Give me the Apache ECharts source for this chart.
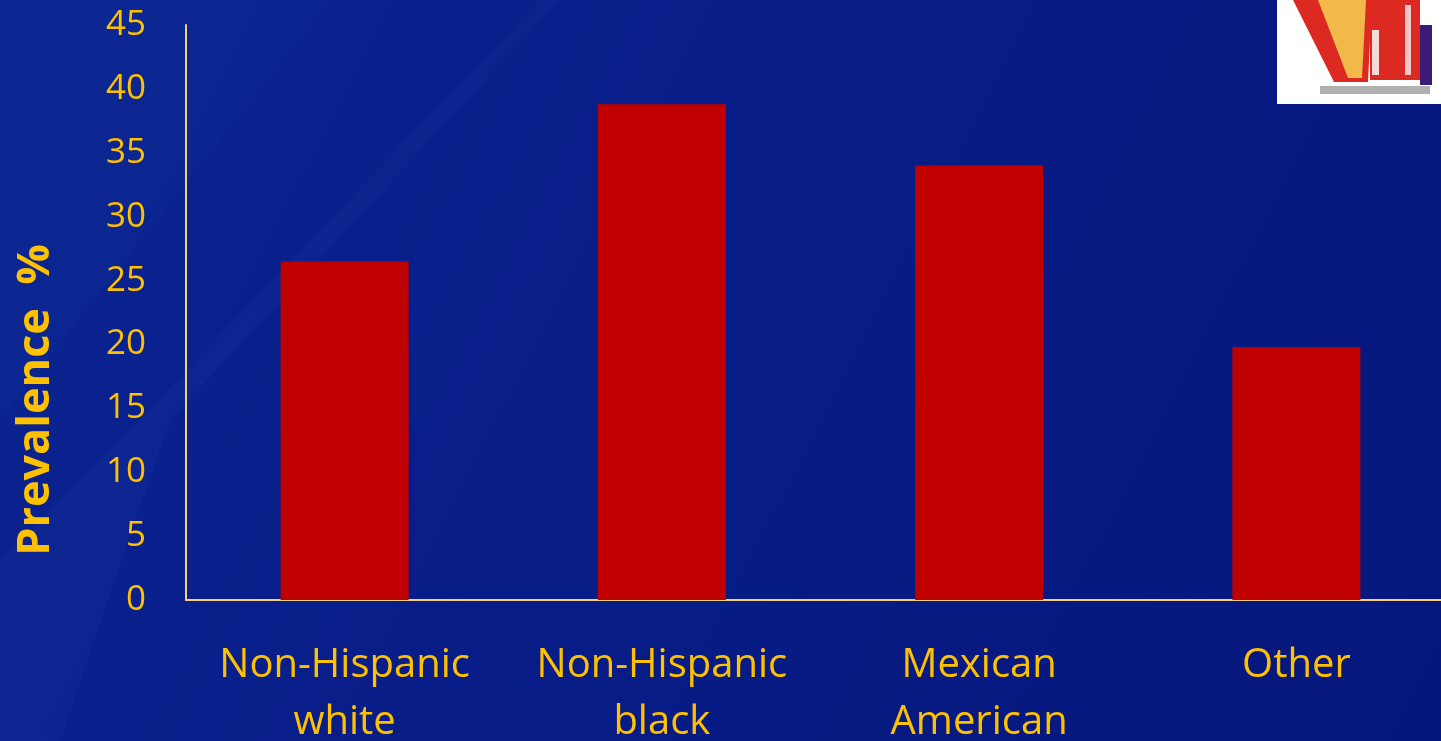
<!DOCTYPE html>
<html>
<head>
<meta charset="utf-8">
<script src="https://cdn.jsdelivr.net/npm/echarts@6/dist/echarts.min.js"></script>
<style>html,body{margin:0;padding:0;}#c{width:1441px;height:741px;}</style>
</head>
<body>
<div id="c"></div>
<script>
const categories = ['Non-Hispanic\nwhite', 'Non-Hispanic\nblack', 'Mexican\nAmerican', 'Other'];
const prevalence = [26.5, 38.8, 34.0, 19.8];
const yTicks = [0, 5, 10, 15, 20, 25, 30, 35, 40, 45];
const yTitle = 'Prevalence  %';

const gold = '#FFC000';
const chart = echarts.init(document.getElementById('c'));
chart.setOption({
  animation: false,
  backgroundColor: {
    type: 'linear', x: 0, y: 0, x2: 1, y2: 1,
    colorStops: [
      { offset: 0, color: '#0B2592' },
      { offset: 0.4, color: '#081D88' },
      { offset: 1, color: '#06177C' }
    ]
  },
  grid: { left: 186, right: -14, top: 25, bottom: 141, containLabel: false, outerBoundsMode: 'none' },
  xAxis: {
    type: 'category',
    data: categories,
    axisLine: { show: true, lineStyle: { color: '#F5CF82', width: 2 } },
    axisTick: { show: false },
    axisLabel: { color: gold, fontSize: 40, fontFamily: 'Open Sans', lineHeight: 57, margin: 37, interval: 0 }
  },
  yAxis: {
    type: 'value', min: yTicks[0], max: yTicks[yTicks.length - 1], interval: 5,
    axisLine: { show: true, lineStyle: { color: '#F5CF82', width: 2 } },
    axisTick: { show: false },
    splitLine: { show: false },
    axisLabel: { color: gold, fontSize: 35, fontFamily: 'Open Sans', margin: 40 }
  },
  series: [{
    type: 'bar',
    data: prevalence,
    barWidth: 128,
    itemStyle: { color: '#C00000' }
  }],
  graphic: [
    { type: 'polygon', z: -10, shape: { points: [[0, 0], [330, 0], [0, 420]] }, style: { fill: 'rgba(40,80,190,0.06)' } },
    { type: 'polygon', z: -10, shape: { points: [[0, 741], [0, 560], [120, 440], [540, 0], [560, 0], [170, 420], [60, 741]] }, style: { fill: 'rgba(60,100,200,0.06)' } },
    {
      type: 'text',
      rotation: Math.PI / 2,
      x: 36, y: 400,
      style: { text: yTitle, fill: gold, font: 'bold 45px "Open Sans"', align: 'center', verticalAlign: 'middle' }
    },
    { type: 'rect', shape: { x: 1277, y: 0, width: 164, height: 104 }, style: { fill: '#FFFFFF' } },
    { type: 'polygon', shape: { points: [[1293, 0], [1372, 0], [1368, 82], [1334, 82]] }, style: { fill: '#DC2A22' } },
    { type: 'polygon', shape: { points: [[1318, 0], [1366, 0], [1362, 78], [1348, 78]] }, style: { fill: '#F2B84A' } },
    { type: 'rect', shape: { x: 1370, y: 0, width: 50, height: 80 }, style: { fill: '#DC2A22' } },
    { type: 'rect', shape: { x: 1372, y: 30, width: 7, height: 45 }, style: { fill: '#F5DADA' } },
    { type: 'rect', shape: { x: 1405, y: 5, width: 6, height: 70 }, style: { fill: '#F0C8C8' } },
    { type: 'rect', shape: { x: 1420, y: 25, width: 12, height: 60 }, style: { fill: '#3A1C78' } },
    { type: 'rect', shape: { x: 1320, y: 86, width: 110, height: 8 }, style: { fill: '#B0B0B0' } }
  ]
});
</script>
</body>
</html>
